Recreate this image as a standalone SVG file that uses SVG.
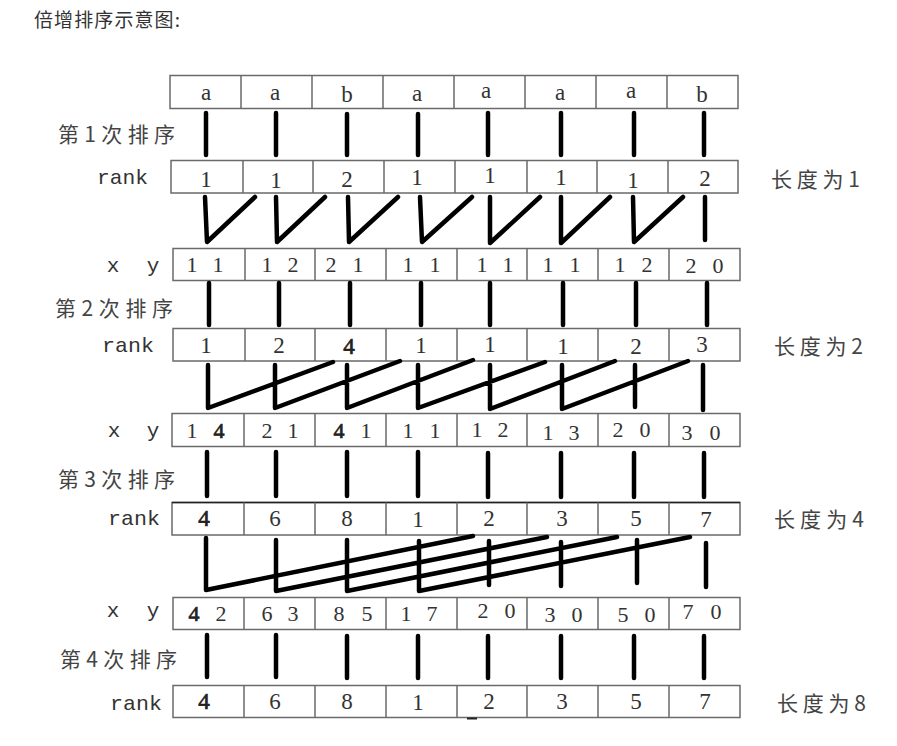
<svg xmlns="http://www.w3.org/2000/svg" width="897" height="746" viewBox="0 0 897 746">
<style>
.box{fill:#fff;stroke:#6a6a6a;stroke-width:1.5}
.div{stroke:#6a6a6a;stroke-width:1.5}
.c{font-family:"Liberation Serif","DejaVu Serif",serif;font-size:23px;fill:#333;text-anchor:middle}
.xy{font-family:"Liberation Serif","DejaVu Serif",serif;font-size:22px;fill:#333;text-anchor:middle}
.b{fill:#222;stroke:#222;stroke-width:0.7}
.lbl{font-family:"Liberation Mono","DejaVu Sans Mono",monospace;font-size:21px;fill:#333}
.cjk{font-family:"Noto Sans CJK SC","Noto Sans",sans-serif;font-size:21px;fill:#444}
.title{font-family:"Noto Sans CJK SC","Noto Sans",sans-serif;font-size:19px;fill:#333}
.ln{stroke:#000;stroke-width:4.5;stroke-linecap:round;stroke-linejoin:round;fill:none}
</style>

<g id="title"><text class="title" x="34" y="27" textLength="146" lengthAdjust="spacing">倍增排序示意图:</text></g>

<!-- stage labels -->
<g id="stage1"><text class="cjk" x="58" y="142" textLength="117" lengthAdjust="spacing">第1次排序</text></g>
<g id="stage2"><text class="cjk" x="55" y="316" textLength="118" lengthAdjust="spacing">第2次排序</text></g>
<g id="stage3"><text class="cjk" x="58" y="487" textLength="117" lengthAdjust="spacing">第3次排序</text></g>
<g id="stage4"><text class="cjk" x="60" y="667" textLength="117" lengthAdjust="spacing">第4次排序</text></g>

<g id="len1"><text class="cjk" x="771" y="187" textLength="89" lengthAdjust="spacing">长度为1</text></g>
<g id="len2"><text class="cjk" x="774" y="354" textLength="89" lengthAdjust="spacing">长度为2</text></g>
<g id="len4"><text class="cjk" x="774" y="527" textLength="90" lengthAdjust="spacing">长度为4</text></g>
<g id="len8"><text class="cjk" x="777" y="711" textLength="89" lengthAdjust="spacing">长度为8</text></g>

<!-- row labels -->
<g id="lbl-rank1"><text class="lbl" x="97" y="184" textLength="51" lengthAdjust="spacingAndGlyphs">rank</text></g>
<g id="lbl-xy1"><text class="lbl" x="113 133 153" y="272" text-anchor="middle">x y</text></g>
<g id="lbl-rank2"><text class="lbl" x="102" y="352" textLength="52" lengthAdjust="spacingAndGlyphs">rank</text></g>
<g id="lbl-xy2"><text class="lbl" x="114 133 153" y="437" text-anchor="middle">x y</text></g>
<g id="lbl-rank3"><text class="lbl" x="108" y="525" textLength="52" lengthAdjust="spacingAndGlyphs">rank</text></g>
<g id="lbl-xy3"><text class="lbl" x="113 133 153" y="617" text-anchor="middle">x y</text></g>
<g id="lbl-rank4"><text class="lbl" x="110" y="710" textLength="52" lengthAdjust="spacingAndGlyphs">rank</text></g>

<!-- row 0: string -->
<g id="row-str">
<rect class="box" x="170" y="75.5" width="568" height="33"/>
<path class="div" d="M241 75.5V108.5M312 75.5V108.5M383 75.5V108.5M454 75.5V108.5M525 75.5V108.5M596 75.5V108.5M667 75.5V108.5"/>
<text class="c" x="206" y="100">a</text><text class="c" x="275" y="100">a</text><text class="c" x="347" y="102">b</text><text class="c" x="417" y="101">a</text>
<text class="c" x="486" y="98">a</text><text class="c" x="560" y="100">a</text><text class="c" x="631" y="98">a</text><text class="c" x="702" y="102">b</text>
</g>

<!-- rank 1 -->
<g id="row-rank1">
<rect class="box" x="171" y="160.5" width="567" height="32.5"/>
<path class="div" d="M243 160.5V193M313 160.5V193M384 160.5V193M455 160.5V193M527 160.5V193M597 160.5V193M668 160.5V193"/>
<text class="c" x="206" y="187">1</text><text class="c" x="276" y="188">1</text><text class="c" x="347" y="187">2</text><text class="c" x="417" y="185">1</text>
<text class="c" x="490" y="183">1</text><text class="c" x="561" y="185">1</text><text class="c" x="633" y="188">1</text><text class="c" x="705" y="186">2</text>
</g>

<!-- xy 1 -->
<g id="row-xy1">
<rect class="box" x="173" y="248.5" width="567" height="32"/>
<path class="div" d="M245 248.5V280.5M315 248.5V280.5M386 248.5V280.5M457 248.5V280.5M527 248.5V280.5M598 248.5V280.5M669 248.5V280.5"/>
<text class="xy" x="192 205 218" y="272">1 1</text>
<text class="xy" x="267 280 293" y="272">1 2</text>
<text class="xy" x="331 344 358" y="272">2 1</text>
<text class="xy" x="408 421 435" y="272">1 1</text>
<text class="xy" x="482 495 508" y="272">1 1</text>
<text class="xy" x="548 561 575" y="272">1 1</text>
<text class="xy" x="620 633 647" y="272">1 2</text>
<text class="xy" x="691 704 718" y="273">2 0</text>
</g>

<!-- rank 2 -->
<g id="row-rank2">
<rect class="box" x="173" y="328.5" width="567" height="32.5"/>
<path class="div" d="M245 328.5V361M315 328.5V361M386 328.5V361M457 328.5V361M527 328.5V361M598 328.5V361M669 328.5V361"/>
<text class="c" x="206" y="353">1</text><text class="c" x="279" y="353">2</text><text class="c b" x="349" y="354">4</text><text class="c" x="421" y="353">1</text>
<text class="c" x="490" y="352">1</text><text class="c" x="563" y="354">1</text><text class="c" x="636" y="354">2</text><text class="c" x="702" y="352">3</text>
</g>

<!-- xy 2 -->
<g id="row-xy2">
<rect class="box" x="172" y="413.5" width="568" height="33"/>
<path class="div" d="M244 413.5V446.5M315 413.5V446.5M386 413.5V446.5M457 413.5V446.5M527 413.5V446.5M598 413.5V446.5M669 413.5V446.5"/>
<text class="xy" x="192 205 219" y="438">1 <tspan class="b">4</tspan></text>
<text class="xy" x="267 280 293" y="438">2 1</text>
<text class="xy" x="339 352 366" y="438"><tspan class="b">4</tspan> 1</text>
<text class="xy" x="408 421 435" y="438">1 1</text>
<text class="xy" x="477 490 503" y="437">1 2</text>
<text class="xy" x="548 561 574" y="440">1 3</text>
<text class="xy" x="618 631 645" y="437">2 0</text>
<text class="xy" x="687 701 715" y="440">3 0</text>
</g>

<!-- rank 3 -->
<g id="row-rank3">
<rect class="box" x="172" y="502.5" width="568" height="32.5"/>
<path d="M172 502.5H740" stroke="#222" stroke-width="1.5"/>
<path class="div" d="M244 502.5V535M315 502.5V535M386 502.5V535M457 502.5V535M527 502.5V535M598 502.5V535M669 502.5V535"/>
<text class="c b" x="204" y="526">4</text><text class="c" x="275" y="526">6</text><text class="c" x="347" y="526">8</text><text class="c" x="418" y="527">1</text>
<text class="c" x="489" y="526">2</text><text class="c" x="562" y="526">3</text><text class="c" x="636" y="526">5</text><text class="c" x="706" y="527">7</text>
</g>

<!-- xy 3 -->
<g id="row-xy3">
<rect class="box" x="173" y="597.5" width="567" height="32"/>
<path class="div" d="M244 597.5V629.5M315 597.5V629.5M386 597.5V629.5M457 597.5V629.5M527 597.5V629.5M598 597.5V629.5M669 597.5V629.5"/>
<text class="xy" x="194 207 221" y="621"><tspan class="b">4</tspan> 2</text>
<text class="xy" x="267 280 293" y="621">6 3</text>
<text class="xy" x="339 353 367" y="621">8 5</text>
<text class="xy" x="406 419 432" y="621">1 7</text>
<text class="xy" x="483 496 510" y="618">2 0</text>
<text class="xy" x="550 563 577" y="622">3 0</text>
<text class="xy" x="623 636 650" y="622">5 0</text>
<text class="xy" x="688 702 716" y="619">7 0</text>
</g>

<!-- rank 4 -->
<g id="row-rank4">
<rect class="box" x="173" y="685.5" width="567" height="32"/>
<path class="div" d="M244 685.5V717.5M315 685.5V717.5M386 685.5V717.5M457 685.5V717.5M527 685.5V717.5M598 685.5V717.5M669 685.5V717.5"/>
<text class="c b" x="204" y="709">4</text><text class="c" x="275" y="709">6</text><text class="c" x="347" y="709">8</text><text class="c" x="418" y="710">1</text>
<text class="c" x="489" y="709">2</text><text class="c" x="562" y="709">3</text><text class="c" x="636" y="709">5</text><text class="c" x="705" y="709">7</text>
<rect x="467" y="717.5" width="10" height="2" fill="#222"/>
</g>

<g id="connectors">
<!-- string -> rank1 -->
<path class="ln" d="M206 113V155M276 113V155M347 114V155M418 114V155M488 113V155M561 113V155M634 113V155M704 113V155"/>
<!-- rank1 -> xy1 -->
<path class="ln" d="M205 197L207 242L255 197M276 197L277 242L325 197M348 197L349 242L398 197M420 197L422 242L472 197M490 197L490 243L540 197M561 197L561 243L610 197M633 197L634 242L683 197M705 197V240"/>
<!-- xy1 -> rank2 -->
<path class="ln" d="M209 283V325M279 283V325M350 283V325M421 283V325M490 283V325M563 283V325M636 283V325M707 283V325"/>
<!-- rank2 -> xy2 -->
<path class="ln" d="M208 365V408L333 362M275 365V408L400 361M347 365V408L473 360M418 365V408L545 362M490 365V409L615 361M562 365V409L688 361M635 365V407M703 365V410"/>
<!-- xy2 -> rank3 -->
<path class="ln" d="M207 452V496M276 452V496M347 452V496M418 452V496M488 453V497M561 453V497M634 453V497M704 453V497"/>
<!-- rank3 -> xy3 -->
<path class="ln" d="M206 538V590L473 536M276 540V591L547 537M347 540V591L617 537M419 541V591L690 537M489 541V585M561 542V586M637 540V583M706 543V587"/>
<!-- xy3 -> rank4 -->
<path class="ln" d="M207 635V677M276 635V677M347 636V678M418 636V678M488 636V678M561 636V678M634 636V678M704 636V678"/>
</g>
</svg>
